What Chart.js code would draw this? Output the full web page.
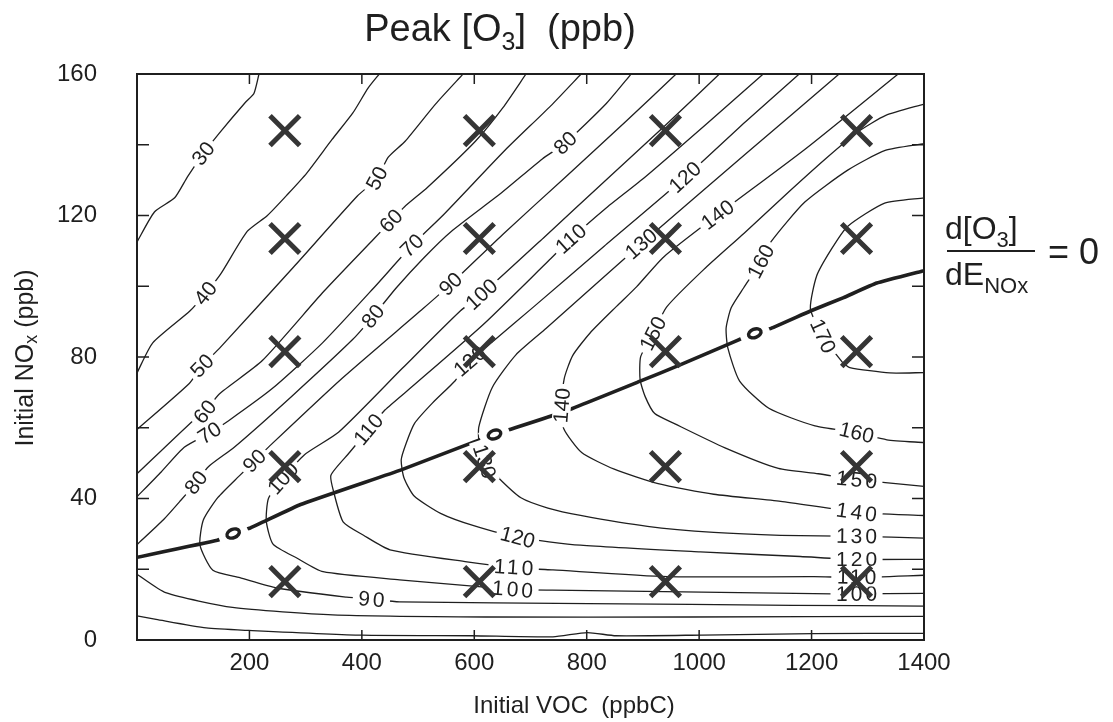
<!DOCTYPE html>
<html lang="en">
<head>
<meta charset="UTF-8">
<title>Peak [O3] (ppb)</title>
<script src="https://cdn.jsdelivr.net/npm/chart.js"></script>
<style>
  body { margin: 0; background: #fff; }
  canvas { display: block; }
</style>
</head>
<body>
<canvas id="isopleth" width="1113" height="722"></canvas>
<script>
// peak ozone isopleths, points are [initial VOC (ppbC), initial NOx (ppb)]
const c30 = [[217,160],[208,154.5],[193,152],[145,143],[118,137.5],[90,131],[67,125],[31,121],[0,112.5]];
const c40 = [[431,160],[411,156],[384,149],[347,141.5],[302,132],[268,126],[232,120],[196,115.5],[149,103.5],[122,98],[94,93],[28,84],[0,75.5]];
const c50 = [[580,160],[531,151.5],[477,141],[447,136.5],[427,130.5],[392,125.5],[279,105.5],[147,82.5],[116,77.5],[93,72.5],[0,59.5]];
const c60 = [[692,160],[651,150.5],[602,141],[517,128],[476,122.5],[452,118.5],[422,113.5],[332,98.5],[223,79],[146,69.5],[121,64.5],[103,62.5],[0,47]];
const c70 = [[790,160],[736,151],[655,138.5],[547,120.5],[489,111.5],[421,99.5],[330,84],[240,71],[163,62],[129,58.5],[84,54.5],[43,47.5],[0,40.5]];
const c80 = [[879,160],[834,151.5],[762,140.5],[721,136],[649,126.5],[559,115.5],[510,108],[461,99.5],[420,91.5],[384,85],[276,69],[173,54.5],[127,49],[105,44.5],[78,39.5],[47,34],[0,27]];
const c90 = [[959,160],[869,146.5],[761,130.7],[653,115],[558,100.6],[509,93.7],[365,74],[239,55.3],[209,50.6],[182,46.4],[144,40.3],[118,33.9],[112,26.8],[135,19.7],[183,17.6],[249,14.7],[373,12.1],[417,11.5],[467,10.8],[803,10.3],[1166,9.8],[1400,9.6]];
const c100 = [[1036,160],[940,145.5],[832,129.7],[724,113.8],[613,97.7],[575,93],[472,76.8],[359,58.8],[298,52.4],[260,45.7],[234,40.1],[230,33.6],[242,27.1],[285,23.1],[331,19.3],[467,17],[613,15],[668,14.3],[739,14.1],[1204,13.1],[1268,13],[1400,13.2]];
const c110 = [[1114,160],[1011,145.6],[904,130.9],[832,121.8],[772,113.4],[729,106.7],[616,89.2],[490,71.7],[441,65],[412,59.5],[378,53],[345,46.6],[350,41.8],[367,33.3],[403,29.6],[450,25.5],[587,22.1],[669,20.5],[740,19.8],[943,17.9],[1204,17.9],[1283,17.7],[1400,18.3]];
const c120 = [[1178,160],[1083,146.6],[975,130.8],[831,111.3],[705,94.1],[633,84.4],[592,78.8],[566,73.3],[525,66.9],[494,61.3],[479,55.7],[470,50.9],[475,45.8],[493,40.7],[540,35.8],[599,32.3],[677,29],[789,26.8],[1002,24.9],[1180,23.6],[1274,22.8],[1400,22.8]];
const c130 = [[1249,160],[1082,137.3],[897,112],[728,88.1],[674,80.6],[632,71.4],[608,60.2],[609,54.8],[618,50.5],[642,46],[683,40.2],[731,37.3],[789,35.2],[908,32.1],[1026,30.4],[1145,29.6],[1283,29.3],[1400,28.8]];
const c140 = [[1354,160],[1189,138.8],[1033,120.2],[937,108.3],[889,99.9],[853,94.3],[806,86.8],[775,80.4],[760,73.9],[756,66.3],[759,59.8],[791,53],[849,48.3],[927,44.2],[1026,41.2],[1145,39.2],[1283,36.1],[1400,35.2]];
const c150 = [[1400,151.5],[1332,148.3],[1282,143.6],[1224,135.9],[1152,125.6],[1080,115],[1008,104.7],[942,94.1],[918,86.6],[896,80.1],[895,73.6],[904,68.8],[921,64],[957,61.1],[1045,54.4],[1141,48.5],[1212,47],[1274,45.4],[1336,44.4],[1400,43.4]];
const c160 = [[1400,140.3],[1331,138.4],[1265,132.9],[1188,123.8],[1128,112.6],[1110,107],[1079,99.5],[1057,93.9],[1048,88.2],[1051,82.6],[1072,73.2],[1124,65.5],[1206,60.5],[1277,58.7],[1334,56.6],[1400,55.8]];
const c170 = [[1400,125],[1330,123.5],[1264,116.9],[1235,110.4],[1209,102.9],[1198,93.6],[1220,85.9],[1255,78.5],[1268,77],[1339,75.5],[1400,75.6]];
const c80low = [[0,18.6],[51,13.4],[170,9.2],[348,7.1],[621,6.5],[984,6.5],[1400,6.7]];
const c70low = [[0,6.8],[34,5.8],[123,3.4],[199,2.7],[400,1.35],[596,1.2],[740,0.9],[801,2.1],[852,1.2],[1005,1.4],[1203,1.8],[1400,1.9]];

// [value, VOC, NOx] where a contour carries its number
const contourLabels = [
  [30,118,137.5],[40,122,98],
  [50,427,130.5],[50,116,77.5],
  [60,452,118.5],[60,121,64.5],
  [70,489,111.5],[70,129,58.5],
  [80,762,140.5],[80,420,91.5],[80,105,44.5],
  [90,558,100.6],[90,209,50.6],[90,417,11.5],
  [100,613,97.7],[100,260,45.7],[100,668,14.3],[100,1280,13],
  [110,772,113.4],[110,412,59.5],[110,670,20.5],[110,1280,17.8],
  [120,975,130.8],[120,592,78.8],[120,677,29],[120,1280,22.8],
  [130,897,112],[130,618,50.5],[130,1280,29.3],
  [140,1033,120.2],[140,756,66.3],[140,1280,36.1],
  [150,918,86.6],[150,1280,45.3],
  [160,1110,107],[160,1280,58.6],
  [170,1220,85.9]
];

// ridge where d[O3]/dE_NOx = 0, and the small "o" marks on it
const ridgeLine = [[0,23.4],[143,28.2],[171,30.1],[202,31.7],[291,38.3],[470,48.1],[600,56],[636,58.1],[756,64.3],[894,73.1],[965,77.7],[1065,84.5],[1099,86.7],[1128,88.1],[1198,93],[1257,96.8],[1316,100.9],[1400,104.4]];
const ridgeMarks = [[171,30.1],[636,58.1],[1099,86.7]];

// model runs, marked X
const runVOC = [263, 609, 940, 1280];
const runNOx = [144, 113.5, 81.5, 49, 16.5];

const contours = [
  [30, c30], [40, c40], [50, c50], [60, c60], [70, c70], [80, c80], [90, c90],
  [100, c100], [110, c110], [120, c120], [130, c130], [140, c140], [150, c150],
  [160, c160], [170, c170], [80, c80low], [70, c70low]
];

const INK = '#1f1f1f';
const FONT = '"Liberation Sans", Arial, Helvetica, sans-serif';
const toXY = pts => pts.map(p => ({ x: p[0], y: p[1] }));

const runPoints = [];
runVOC.forEach(v => runNOx.forEach(n => runPoints.push({ x: v, y: n })));

const datasets = [{
  label: 'runs',
  data: runPoints,
  showLine: false,
  pointStyle: 'crossRot',
  pointRadius: 21,
  pointBorderWidth: 5,
  pointBorderColor: '#353535',
  order: 0
}, {
  label: 'ridge',
  data: toXY(ridgeLine),
  showLine: true,
  borderColor: INK,
  borderWidth: 3.6,
  pointRadius: 0,
  tension: 0.1,
  order: 1
}];
contours.forEach(([value, pts]) => datasets.push({
  label: value + ' ppb',
  data: toXY(pts),
  showLine: true,
  borderColor: INK,
  borderWidth: 1.3,
  pointRadius: 0,
  tension: 0.2,
  order: 2
}));

function segDist(px, py, ax, ay, bx, by) {
  const dx = bx - ax, dy = by - ay;
  const len = dx * dx + dy * dy || 1;
  let t = ((px - ax) * dx + (py - ay) * dy) / len;
  t = Math.max(0, Math.min(1, t));
  return Math.hypot(px - (ax + t * dx), py - (ay + t * dy));
}

// angle of the nearest drawn segment, kept readable
function localAngle(chart, px, py, test) {
  let best = Infinity, ang = 0;
  chart.data.datasets.forEach((ds, i) => {
    if (!test(ds)) return;
    const pts = chart.getDatasetMeta(i).data;
    for (let k = 0; k < pts.length - 1; k++) {
      const a = pts[k], b = pts[k + 1];
      const d = segDist(px, py, a.x, a.y, b.x, b.y);
      if (d < best) { best = d; ang = Math.atan2(b.y - a.y, b.x - a.x); }
    }
  });
  if (ang > Math.PI / 2) ang -= Math.PI;
  if (ang < -Math.PI / 2) ang += Math.PI;
  return ang;
}

const labelPlugin = {
  id: 'contourLabels',
  beforeDatasetDraw(chart, args) {
    if (chart.data.datasets[args.index].label !== 'runs') return;
    const { ctx, scales: { x, y } } = chart;
    ctx.save();
    ctx.font = '21px ' + FONT;
    ctx.textAlign = 'center';
    ctx.textBaseline = 'middle';
    contourLabels.forEach(([value, v, n]) => {
      const px = x.getPixelForValue(v), py = y.getPixelForValue(n);
      const ang = localAngle(chart, px, py, ds => ds.label.endsWith('ppb'));
      const text = String(value);
      // the flat labels along the bottom are set a little wider
      ctx.letterSpacing = Math.abs(ang) < 0.2 ? '3px' : '0px';
      const w = ctx.measureText(text).width;
      ctx.save();
      ctx.translate(px, py);
      ctx.rotate(ang);
      ctx.fillStyle = '#fff';
      ctx.fillRect(-w / 2 - 4, -9, w + 8, 18);
      ctx.fillStyle = INK;
      ctx.fillText(text, Math.abs(ang) < 0.2 ? 1.5 : 0, 1);
      ctx.restore();
    });
    ctx.letterSpacing = '0px';
    ridgeMarks.forEach(([v, n]) => {
      const px = x.getPixelForValue(v), py = y.getPixelForValue(n);
      const ang = localAngle(chart, px, py, ds => ds.label === 'ridge');
      ctx.save();
      ctx.translate(px, py);
      ctx.rotate(ang);
      ctx.fillStyle = '#fff';
      ctx.fillRect(-15, -7, 30, 14);
      ctx.strokeStyle = INK;
      ctx.lineWidth = 3.4;
      ctx.beginPath();
      ctx.ellipse(0, 0, 6.5, 4.2, 0, 0, Math.PI * 2);
      ctx.stroke();
      ctx.restore();
    });
    ctx.restore();
  }
};

// text with a subscript part: parts are [text, size, drop]
function drawParts(ctx, parts, x, y, align) {
  const widths = parts.map(([t, s]) => { ctx.font = s + 'px ' + FONT; return ctx.measureText(t).width; });
  const total = widths.reduce((a, b) => a + b, 0);
  let cx = align === 'center' ? x - total / 2 : x;
  ctx.textAlign = 'left';
  ctx.textBaseline = 'alphabetic';
  parts.forEach(([t, s, drop], i) => {
    ctx.font = s + 'px ' + FONT;
    ctx.fillText(t, cx, y + drop);
    cx += widths[i];
  });
  return total;
}

const framePlugin = {
  id: 'frame',
  afterDraw(chart) {
    const { ctx, chartArea: a, scales: { x, y } } = chart;
    ctx.save();
    ctx.strokeStyle = INK;
    ctx.lineWidth = 2;
    ctx.strokeRect(a.left, a.top, a.right - a.left, a.bottom - a.top);
    ctx.lineWidth = 1.5;
    ctx.beginPath();
    x.ticks.forEach(t => {
      if (t.value <= x.min || t.value >= x.max) return;
      const px = x.getPixelForValue(t.value);
      ctx.moveTo(px, a.bottom); ctx.lineTo(px, a.bottom - 10);
      ctx.moveTo(px, a.top); ctx.lineTo(px, a.top + 10);
    });
    y.ticks.forEach(t => {
      if (t.value <= y.min || t.value >= y.max) return;
      const py = y.getPixelForValue(t.value);
      ctx.moveTo(a.left, py); ctx.lineTo(a.left + 12, py);
      ctx.moveTo(a.right, py); ctx.lineTo(a.right - 12, py);
    });
    ctx.stroke();

    ctx.fillStyle = INK;
    drawParts(ctx, [['Peak [O', 38, 0], ['3', 25, 9], [']  (ppb)', 38, 0]], 500, 41, 'center');
    drawParts(ctx, [['Initial VOC  (ppbC)', 24, 0]], 574, 713, 'center');

    ctx.save();
    ctx.translate(33, 358);
    ctx.rotate(-Math.PI / 2);
    drawParts(ctx, [['Initial NO', 25, 0], ['x', 18, 4], [' (ppb)', 25, 0]], 0, 0, 'center');
    ctx.restore();

    // d[O3]/dE_NOx = 0 beside the ridge end
    drawParts(ctx, [['d[O', 32, 0], ['3', 22, 8], [']', 32, 0]], 945, 239, 'left');
    ctx.lineWidth = 2;
    ctx.beginPath();
    ctx.moveTo(947, 251); ctx.lineTo(1035, 251);
    ctx.stroke();
    drawParts(ctx, [['dE', 32, 0], ['NOx', 22, 8]], 945, 285, 'left');
    drawParts(ctx, [['= 0', 36, 0]], 1048, 264, 'left');
    ctx.restore();
  }
};

new Chart(document.getElementById('isopleth'), {
  type: 'scatter',
  data: { datasets },
  options: {
    responsive: false,
    animation: false,
    events: [],
    layout: { padding: { left: 0, right: 189, top: 74, bottom: 0 } },
    plugins: { legend: { display: false }, tooltip: { enabled: false } },
    scales: {
      x: {
        type: 'linear', min: 0, max: 1400,
        grid: { display: false, drawTicks: false },
        border: { display: false },
        afterFit: s => { s.height = 82; },
        ticks: {
          stepSize: 200, autoSkip: false, maxRotation: 0, padding: 9,
          color: INK, font: { family: FONT, size: 24 },
          callback: v => (v === 0 ? '' : v)
        }
      },
      y: {
        type: 'linear', min: 0, max: 160,
        grid: { display: false, drawTicks: false },
        border: { display: false },
        afterFit: s => { s.width = 137; },
        ticks: {
          stepSize: 20, autoSkip: false, padding: 40,
          color: INK, font: { family: FONT, size: 24 },
          callback: v => (v % 40 === 0 ? v : '')
        }
      }
    }
  },
  plugins: [labelPlugin, framePlugin]
});
</script>
</body>
</html>
